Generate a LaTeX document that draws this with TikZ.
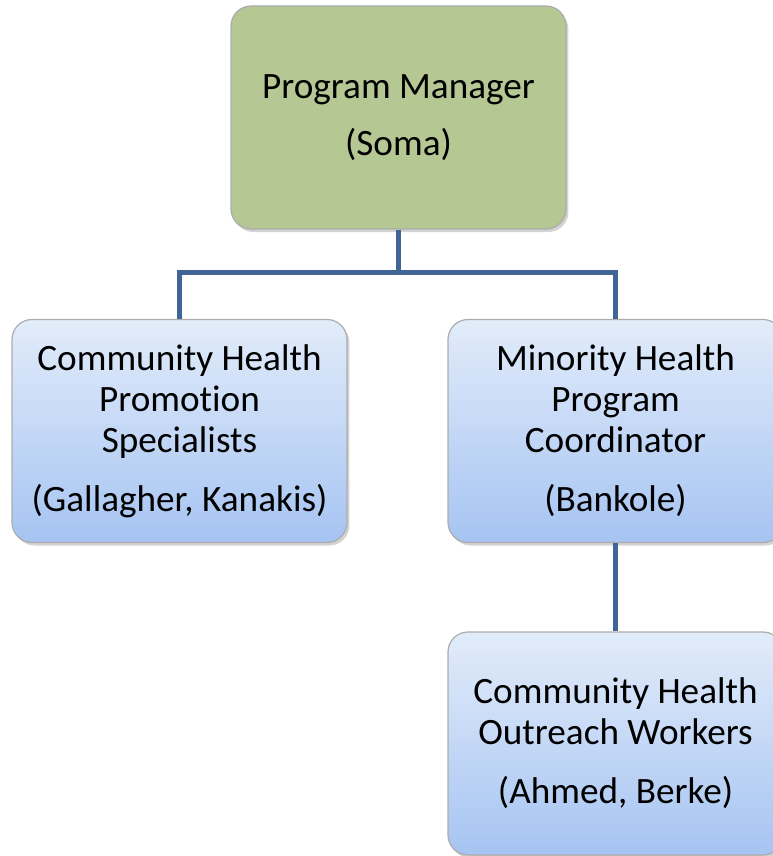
\documentclass[tikz,border=0pt]{standalone}
\usepackage{fontspec}
\setmainfont{Carlito}[Ligatures=NoCommon]
\usetikzlibrary{
    positioning,
    calc,
    shadows}

\definecolor{pmgreen}{RGB}{181,199,147}
\definecolor{boxtop}{RGB}{226,236,250}
\definecolor{boxbot}{RGB}{166,196,242}
\definecolor{linkblue}{RGB}{64,101,150}

\begin{document}
\begin{tikzpicture}[x=0.5pt,y=-0.5pt,
    box/.style={draw=gray!65, line width=0.6pt, rounded corners=10pt,
        minimum width=167.5pt, minimum height=111.5pt, align=center,
        font=\fontsize{18.6}{20.5}\selectfont, inner sep=0pt,
        drop shadow={shadow xshift=1.2pt, shadow yshift=-1.5pt, opacity=0.35}},
    bluebox/.style={box, top color=boxtop, bottom color=boxbot},
    link/.style={draw=linkblue, line width=2.5pt}]

\useasboundingbox (0,0) rectangle (772,856);

% boxes
\node[box, fill=pmgreen] (pm) at (398.5,117.5) {Program Manager\\[8pt](Soma)};
\node[bluebox] (chps) at (179.5,431) {Community Health\\Promotion\\Specialists\\[9pt](Gallagher, Kanakis)};
\node[bluebox] (mhpc) at (615.5,431) {Minority Health\\Program\\Coordinator\\[9pt](Bankole)};
\node[bluebox] (chow) at (615.5,743.5) {Community Health\\Outreach Workers\\[9pt](Ahmed, Berke)};

% connectors
\coordinate (bus) at ($(pm.south)+(0,43)$);
\draw[link] (pm.south) -- (bus);
\draw[link] (bus) -| (chps.north);
\draw[link] (bus) -| (mhpc.north);
\draw[link] (mhpc.south) -- (chow.north);

\end{tikzpicture}
\end{document}
